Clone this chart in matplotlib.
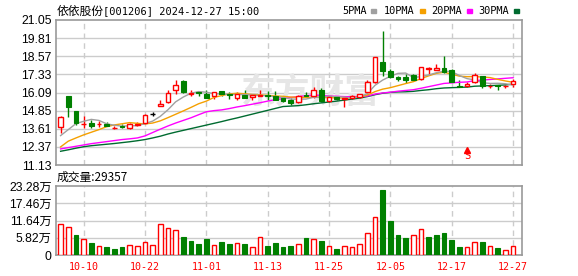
import matplotlib
matplotlib.use("Agg")
import matplotlib.pyplot as plt
from matplotlib.patches import Rectangle
import numpy as np

# trading days shown (2024-09-30 .. 2024-12-27)
dates = ["09-30",
         "10-08", "10-09", "10-10", "10-11", "10-14", "10-15", "10-16", "10-17", "10-18",
         "10-21", "10-22", "10-23", "10-24", "10-25", "10-28", "10-29", "10-30", "10-31",
         "11-01", "11-04", "11-05", "11-06", "11-07", "11-08", "11-11", "11-12", "11-13",
         "11-14", "11-15", "11-18", "11-19", "11-20", "11-21", "11-22", "11-25", "11-26",
         "11-27", "11-28", "11-29",
         "12-02", "12-03", "12-04", "12-05", "12-06", "12-09", "12-10", "12-11", "12-12",
         "12-13", "12-16", "12-17", "12-18", "12-19", "12-20", "12-23", "12-24", "12-25",
         "12-26", "12-27"]

opens = [13.74, 15.83, 14.80, 13.94, 14.01, 13.92, 13.96, 13.65, 13.80, 13.67,
         13.90, 14.01, 14.60, 15.17, 15.44, 16.28, 16.90, 15.99, 16.10, 15.99,
         15.83, 16.17, 15.99, 15.72, 15.94, 15.76, 15.83, 15.92, 15.83, 15.69,
         15.60, 15.42, 15.94, 15.83, 16.24, 15.49, 15.76, 15.65, 15.72, 15.76,
         16.10, 16.81, 18.15, 17.53, 17.13, 17.13, 17.31, 17.01, 17.69, 17.65,
         17.74, 17.65, 16.51, 16.51, 16.78, 17.24, 16.51, 16.62, 16.51, 16.67]
highs = [14.51, 15.85, 14.80, 14.46, 14.21, 14.12, 14.05, 13.78, 13.96, 14.01,
         14.05, 14.62, 14.74, 15.60, 16.28, 16.92, 16.95, 16.28, 16.15, 16.24,
         16.10, 16.17, 16.10, 16.10, 16.24, 15.90, 16.24, 16.19, 16.19, 15.83,
         15.72, 15.92, 16.15, 16.47, 16.38, 15.83, 15.83, 15.74, 15.94, 16.01,
         16.97, 18.51, 20.27, 17.72, 17.24, 17.35, 17.38, 17.81, 17.81, 18.06,
         18.56, 17.72, 16.92, 16.81, 17.42, 17.24, 16.65, 16.62, 16.62, 17.01]
lows = [13.33, 14.42, 13.87, 13.67, 13.67, 13.71, 13.78, 13.60, 13.67, 13.60,
        13.78, 13.96, 14.46, 15.17, 15.37, 16.00, 16.06, 15.87, 15.83, 15.72,
        15.67, 15.83, 15.65, 15.60, 15.72, 15.56, 15.83, 15.58, 15.56, 15.47,
        15.26, 15.37, 15.78, 15.74, 15.42, 15.42, 15.60, 15.10, 15.65, 15.72,
        15.99, 16.74, 17.24, 17.08, 16.85, 16.74, 16.90, 16.97, 17.38, 17.60,
        17.42, 16.81, 16.44, 16.47, 16.74, 16.40, 16.37, 16.24, 16.42, 16.47]
closes = [14.42, 15.10, 14.01, 13.96, 13.83, 13.96, 13.80, 13.67, 13.71, 13.94,
          13.92, 14.58, 14.60, 15.28, 16.06, 16.62, 16.10, 16.08, 16.03, 15.72,
          16.10, 16.01, 15.92, 16.01, 15.72, 15.90, 15.90, 15.83, 15.60, 15.51,
          15.37, 15.87, 15.83, 16.24, 15.49, 15.78, 15.67, 15.72, 15.83, 16.01,
          16.81, 18.51, 17.53, 17.15, 17.01, 16.92, 16.97, 17.81, 17.74, 17.76,
          17.47, 16.81, 16.47, 16.69, 17.31, 16.51, 16.56, 16.51, 16.56, 16.85]

ma5 = [13.14, 13.55, 13.96, 14.12, 14.25, 14.18, 13.95, 13.85, 13.79, 13.81,
       13.82, 13.96, 14.13, 14.46, 14.91, 15.45, 15.78, 16.04, 16.15, 16.11,
       16.01, 15.99, 15.96, 15.95, 15.95, 15.91, 15.89, 15.87, 15.79, 15.75,
       15.64, 15.64, 15.64, 15.76, 15.76, 15.84, 15.80, 15.78, 15.70, 15.80,
       16.01, 16.58, 16.94, 17.20, 17.40, 17.42, 17.12, 17.17, 17.29, 17.44,
       17.55, 17.52, 17.25, 17.04, 16.95, 16.76, 16.71, 16.72, 16.69, 16.60]
ma10 = [12.37, 12.76, 12.98, 13.19, 13.37, 13.55, 13.75, 13.87, 13.95, 14.03,
        13.98, 13.94, 14.00, 14.15, 14.37, 14.60, 14.83, 15.07, 15.32, 15.50,
        15.75, 15.88, 15.99, 16.04, 16.00, 15.95, 15.93, 15.89, 15.85, 15.83,
        15.78, 15.76, 15.75, 15.78, 15.76, 15.74, 15.72, 15.71, 15.73, 15.79,
        15.91, 16.15, 16.32, 16.42, 16.56, 16.70, 16.83, 17.04, 17.23, 17.40,
        17.48, 17.34, 17.21, 17.17, 17.18, 17.15, 17.11, 16.99, 16.88, 16.79]
ma20 = [12.23, 12.32, 12.41, 12.50, 12.59, 12.66, 12.73, 12.80, 12.87, 12.92,
        12.98, 13.12, 13.35, 13.58, 13.80, 14.00, 14.18, 14.36, 14.57, 14.77,
        14.85, 14.90, 14.99, 15.10, 15.19, 15.29, 15.39, 15.50, 15.60, 15.67,
        15.75, 15.81, 15.87, 15.92, 15.89, 15.85, 15.83, 15.81, 15.80, 15.82,
        15.85, 15.98, 16.06, 16.11, 16.18, 16.23, 16.28, 16.38, 16.49, 16.60,
        16.71, 16.75, 16.79, 16.81, 16.90, 16.94, 16.98, 17.02, 17.06, 17.10]
ma30 = [12.07, 12.17, 12.28, 12.38, 12.45, 12.50, 12.55, 12.60, 12.66, 12.72,
        12.79, 12.87, 12.98, 13.10, 13.25, 13.38, 13.50, 13.62, 13.74, 13.86,
        13.98, 14.10, 14.23, 14.35, 14.48, 14.61, 14.74, 14.87, 15.00, 15.13,
        15.16, 15.19, 15.25, 15.32, 15.38, 15.44, 15.50, 15.57, 15.64, 15.71,
        15.81, 15.94, 16.04, 16.10, 16.13, 16.14, 16.17, 16.23, 16.28, 16.35,
        16.40, 16.42, 16.44, 16.46, 16.52, 16.54, 16.56, 16.58, 16.61, 16.66]

# volume in 万手, colour r = up vs previous close, g = down
volume = [10.45, 9.54, 6.80, 5.34, 4.09, 2.95, 2.73, 2.04, 2.73, 3.29,
          2.95, 4.32, 3.29, 10.45, 9.20, 8.40, 6.13, 4.77, 3.75, 5.45,
          3.29, 4.43, 3.75, 3.98, 3.75, 2.61, 6.02, 3.07, 4.09, 2.73,
          3.07, 3.64, 5.80, 5.34, 4.77, 3.07, 2.04, 3.07, 2.73, 3.64,
          7.38, 12.84, 21.80, 11.60, 6.80, 5.80, 6.70, 8.75, 6.13, 6.80,
          7.50, 5.10, 2.73, 2.61, 4.32, 4.43, 2.95, 2.39, 1.59, 2.94]
vol_dir = "rrgrgrgggrrrrrrrggggrggrgrrggggrgrgrgrrrrrggggrrgggggrrgrgrr"

price_ticks = [11.13, 12.37, 13.61, 14.85, 16.09, 17.33, 18.57, 19.81, 21.05]
vol_ticks = [0, 5.82, 11.64, 17.46, 23.28]
vol_labels = ["0", "5.82万", "11.64万", "17.46万", "23.28万"]
date_ticks = ["10-10", "10-22", "11-01", "11-13", "11-25", "12-05", "12-17", "12-27"]
last_volume = "29357"
sell_day = "12-19"

RED = "#ff0000"
GREEN = "#008000"
GRID = "#cccccc"
FRAME = "#999999"
MA_COLORS = ["#a0a0a0", "#f5a000", "#ff00ff", "#006b30"]
MA_NAMES = ["5PMA", "10PMA", "20PMA", "30PMA"]
LABEL_FONT = ["Liberation Sans", "Noto Sans CJK SC"]
MONO_FONT = ["DejaVu Sans Mono", "Noto Sans CJK SC"]

W, H = 578, 276
fig = plt.figure(figsize=(W / 100, H / 100), dpi=100)
ax = fig.add_axes([56 / W, 1 - 165 / H, 466 / W, 145 / H])
axv = fig.add_axes([56 / W, 1 - 255 / H, 466 / W, 69 / H])

x = np.arange(len(dates))
o = np.array(opens); c = np.array(closes)
hi = np.array(highs); lo = np.array(lows)
up = c > o
dn = c < o
flat = c == o
tick_pos = [dates.index(d) for d in date_ticks]


def style(a, ticks, labels):
    a.set_xlim(-0.6, len(dates) + 0.17)
    a.set_ylim(ticks[0], ticks[-1])
    a.set_yticks(ticks)
    a.set_yticklabels(labels, fontsize=8.8, family=LABEL_FONT)
    a.tick_params(length=0, pad=3)
    for s in a.spines.values():
        s.set_color(FRAME)
        s.set_linewidth(1.2)
    for t in ticks[1:-1]:
        a.axhline(t, color=GRID, lw=1, zorder=0.5)
    for p in tick_pos:
        a.axvline(p, color=GRID, lw=1, ls=(0, (4, 3)), zorder=0.5)


style(ax, price_ticks, [f"{v:.2f}" for v in price_ticks])
style(axv, vol_ticks, vol_labels)
ax.set_xticks([])

# watermark
ax.text(0.545, 0.5, "东方财富", transform=ax.transAxes, fontsize=25,
        family="Noto Sans CJK SC", fontweight="bold", color="#e6e6e6",
        ha="center", va="center", zorder=0.6)

# candles
cols = np.where(up, RED, np.where(dn, GREEN, "black"))
ax.vlines(x, lo, hi, colors=cols, lw=1, zorder=2)
bw = 0.6
ax.bar(x[up], (c - o)[up], bottom=o[up], width=bw, facecolor="white",
       edgecolor=RED, lw=1, zorder=3)
ax.bar(x[dn], (o - c)[dn], bottom=c[dn], width=bw, facecolor=GREEN,
       edgecolor=GREEN, lw=0.8, zorder=3)
ax.hlines(c[flat], x[flat] - bw / 2, x[flat] + bw / 2, colors="black", lw=1, zorder=3)

for vals, col in zip([ma30, ma20, ma10, ma5], MA_COLORS[::-1]):
    ax.plot(x, vals, color=col, lw=1, zorder=2.5)

# sell marker
si = dates.index(sell_day)
ax.plot([si], [12.14], marker="^", ms=4, color=RED, zorder=4)
ax.text(si, 11.72, "S", color=RED, fontsize=7.5, family="DejaVu Sans Mono",
        ha="center", va="center", zorder=4)

# volume bars
vup = np.array([d == "r" for d in vol_dir])
vol = np.array(volume)
axv.bar(x[vup], vol[vup], width=0.62, facecolor="white", edgecolor=RED, lw=1, zorder=3)
axv.bar(x[~vup], vol[~vup], width=0.62, facecolor=GREEN, edgecolor=GREEN, lw=0.8, zorder=3)
axv.set_xticks(tick_pos)
axv.set_xticklabels(date_ticks, fontsize=7.2, family="DejaVu Sans Mono", color=RED)
axv.tick_params(axis="x", pad=5)

# header
fig.text(57 / W, 1 - 11 / H, "依依股份", fontsize=8.5, family="Noto Sans CJK SC",
         va="center", ha="left")
fig.text(103 / W, 1 - 11 / H, "[001206] 2024-12-27 15:00", fontsize=7.5,
         family=MONO_FONT, va="center", ha="left")

legend_x = [342, 384, 431, 478]
for lx, name, col in zip(legend_x, MA_NAMES, MA_COLORS):
    fig.text(lx / W, 1 - 11 / H, name, fontsize=7.4, family="DejaVu Sans Mono",
             va="center", ha="left")
    sx = lx + len(name) * 6.3 + 4
    fig.patches.append(Rectangle((sx / W, 1 - 13 / H), 5 / W, 4 / H,
                                 transform=fig.transFigure, color=col))

fig.text(57 / W, 1 - 177 / H, "成交量:" + last_volume, fontsize=8.5,
         family="Noto Sans CJK SC", va="center", ha="left")

fig.savefig("out.png", dpi=100)
